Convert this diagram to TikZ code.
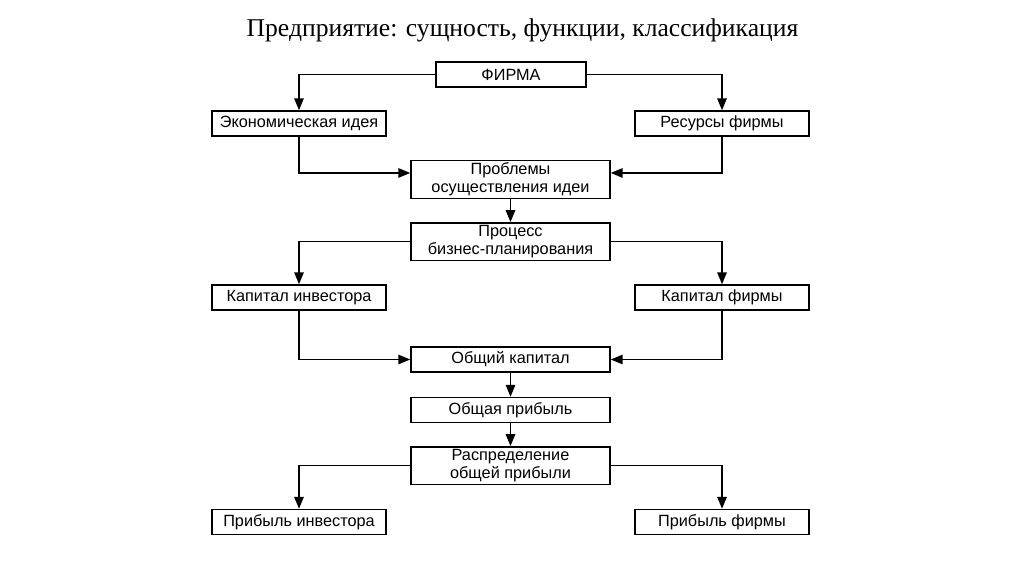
\documentclass[tikz,border=0pt]{standalone}
\usepackage{fontspec}
\setmainfont{Liberation Serif}
\newfontfamily\boxfont{Liberation Sans}
\usetikzlibrary{arrows.meta}
\tikzset{
  box/.style={draw, line width=1pt, inner sep=0pt, align=center,
    font=\boxfont\fontsize{12.2pt}{13.5pt}\selectfont},
  sidebox/.style={box, minimum width=130.5pt, minimum height=18.75pt},
  midbox/.style={box, minimum width=149.25pt, minimum height=18.75pt},
  tallbox/.style={box, minimum width=149.25pt, minimum height=28pt},
  firmbox/.style={box, minimum width=112.5pt, minimum height=18.75pt},
  arr/.style={line width=1.4pt, -{Triangle[length=9pt,width=7pt]}}
}
\begin{document}
\begin{tikzpicture}[x=0.75pt, y=-0.75pt]
      \useasboundingbox (0,0) rectangle (1024,574);
      %
      \node[anchor=base west, font=\fontsize{19.2pt}{23pt}\selectfont] (title) at (242,37)
        {Предприятие: сущность, функции, классификация};
      %
      \node[firmbox] (firm) at (511,74.5) {ФИРМА};
      \node[sidebox] (idea) at (299,123.5) {Экономическая идея};
      \node[sidebox] (res) at (722,123.5) {Ресурсы фирмы};
      \node[tallbox] (probl) at (510.5,179.5) {Проблемы\\осуществления идеи};
      \node[tallbox] (proc) at (510.5,241.5) {Процесс\\бизнес-планирования};
      %
      \node[sidebox] (kinv) at (299,297.5) {Капитал инвестора};
      \node[sidebox] (kfirm) at (722,297.5) {Капитал фирмы};
      \node[midbox] (total) at (510.5,359.5) {Общий капитал};
      \node[midbox] (profit) at (510.5,410) {Общая прибыль};
      \node[tallbox] (distr) at (510.5,465.5) {Распределение\\общей прибыли};
      %
      \node[sidebox] (pinv) at (299,522) {Прибыль инвестора};
      \node[sidebox] (pfirm) at (722,522) {Прибыль фирмы};
      %
      \draw[arr] (firm.west) -| (idea.north);
      \draw[arr] (firm.east) -| (res.north);
      \draw[arr] (idea.south) |- ([yshift=4.9pt]probl.west);
      \draw[arr] (res.south) |- ([yshift=4.9pt]probl.east);
      \draw[arr] (probl) -- (proc);
      %
      \draw[arr] (proc.west) -| (kinv.north);
      \draw[arr] (proc.east) -| (kfirm.north);
      \draw[arr] (kinv.south) |- (total.west);
      \draw[arr] (kfirm.south) |- (total.east);
      \draw[arr] (total) -- (profit);
      \draw[arr] (profit) -- (distr);
      %
      \draw[arr] (distr.west) -| (pinv.north);
      \draw[arr] (distr.east) -| (pfirm.north);
      %
    \end{tikzpicture}
\end{document}
